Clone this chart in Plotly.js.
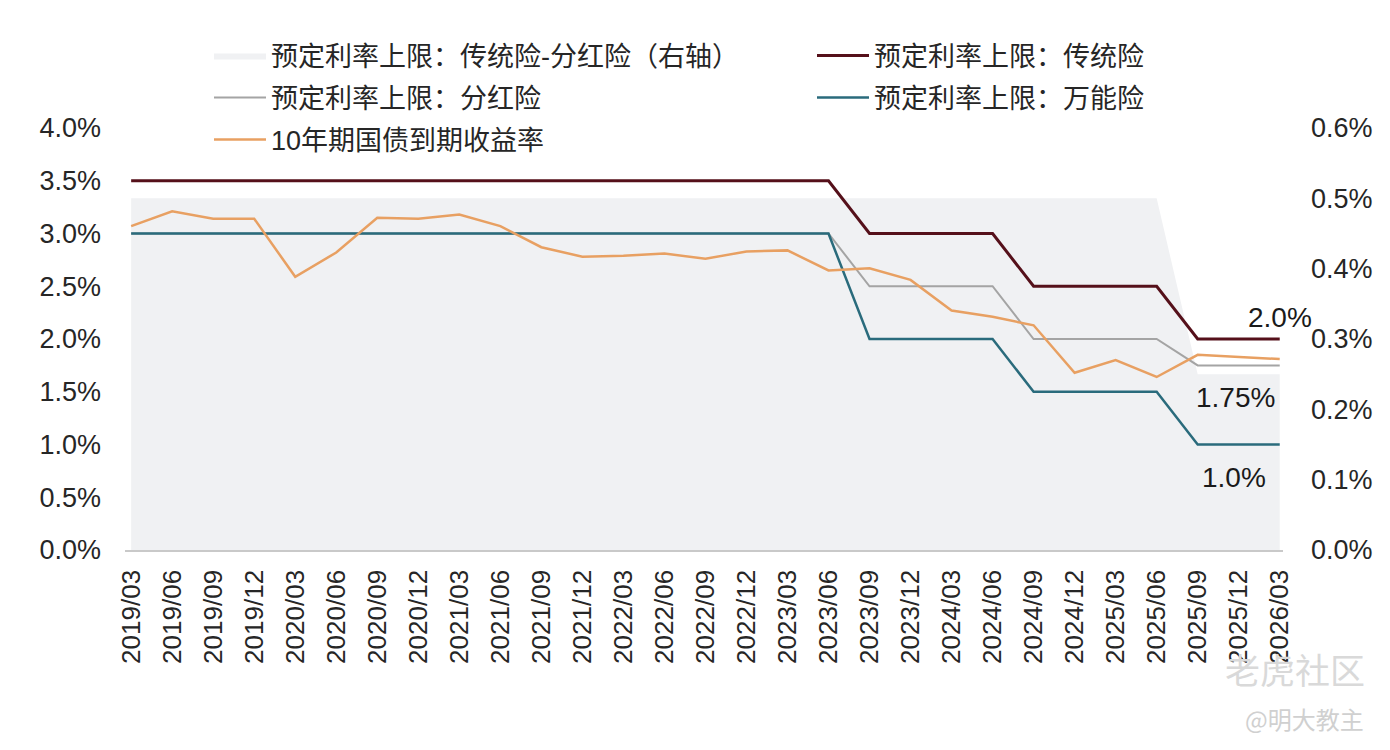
<!DOCTYPE html>
<html>
<head>
<meta charset="utf-8">
<script src="https://cdn.plot.ly/plotly-3.0.1.min.js"></script>
<style>
html,body{margin:0;padding:0;background:#ffffff;}
#chart{width:1390px;height:750px;}
</style>
</head>
<body>
<div id="chart"></div>
<script>
// ---- data ----
var quarters = ["2019/03","2019/06","2019/09","2019/12","2020/03","2020/06","2020/09","2020/12",
  "2021/03","2021/06","2021/09","2021/12","2022/03","2022/06","2022/09","2022/12",
  "2023/03","2023/06","2023/09","2023/12","2024/03","2024/06","2024/09","2024/12",
  "2025/03","2025/06","2025/09","2025/12","2026/03"];
var traditional = [3.5,3.5,3.5,3.5,3.5,3.5,3.5,3.5,3.5,3.5,3.5,3.5,3.5,3.5,3.5,3.5,3.5,3.5,
  3.0,3.0,3.0,3.0,2.5,2.5,2.5,2.5,2.0,2.0,2.0];
var dividend = [3.0,3.0,3.0,3.0,3.0,3.0,3.0,3.0,3.0,3.0,3.0,3.0,3.0,3.0,3.0,3.0,3.0,3.0,
  2.5,2.5,2.5,2.5,2.0,2.0,2.0,2.0,1.75,1.75,1.75];
var universal = [3.0,3.0,3.0,3.0,3.0,3.0,3.0,3.0,3.0,3.0,3.0,3.0,3.0,3.0,3.0,3.0,3.0,3.0,
  2.0,2.0,2.0,2.0,1.5,1.5,1.5,1.5,1.0,1.0,1.0];
var spreadTradDiv = [0.5,0.5,0.5,0.5,0.5,0.5,0.5,0.5,0.5,0.5,0.5,0.5,0.5,0.5,0.5,0.5,0.5,0.5,
  0.5,0.5,0.5,0.5,0.5,0.5,0.5,0.5,0.25,0.25,0.25];
var bond10y = [3.07,3.21,3.14,3.14,2.59,2.82,3.15,3.14,3.18,3.07,2.87,2.78,2.79,2.81,2.76,2.83,
  2.84,2.65,2.67,2.56,2.27,2.21,2.13,1.68,1.80,1.64,1.85,1.83,1.81];
var leftTicks = [0,0.5,1.0,1.5,2.0,2.5,3.0,3.5,4.0];
var leftTickText = ["0.0%","0.5%","1.0%","1.5%","2.0%","2.5%","3.0%","3.5%","4.0%"];
var rightTicks = [0,0.1,0.2,0.3,0.4,0.5,0.6];
var rightTickText = ["0.0%","0.1%","0.2%","0.3%","0.4%","0.5%","0.6%"];
var names = {
  spread: "预定利率上限：传统险-分红险（右轴）",
  trad: "预定利率上限：传统险",
  div: "预定利率上限：分红险",
  uni: "预定利率上限：万能险",
  bond: "10年期国债到期收益率"
};
var endLabels = ["2.0%","1.75%","1.0%"];

// ---- chart ----
var FONT = "Liberation Sans, Arial, Noto Sans CJK SC, sans-serif";
var LFONT = {family: "Liberation Sans, Noto Sans CJK SC, sans-serif", size: 27, color: "#262626"};

// the right-axis area sits on the base axis "y" so the lines (on overlaying "y2") draw above it
var traces = [
  {x: quarters, y: spreadTradDiv, name: names.spread, type: "scatter", mode: "lines",
   yaxis: "y", fill: "tozeroy", fillcolor: "#f0f1f3", line: {width: 0, color: "#f0f1f3"},
   legend: "legend"},
  {x: quarters, y: traditional, name: names.trad, type: "scatter", mode: "lines", yaxis: "y2",
   line: {color: "#55101a", width: 3}, legend: "legend4"},
  {x: quarters, y: dividend, name: names.div, type: "scatter", mode: "lines", yaxis: "y2",
   line: {color: "#a4a4a4", width: 2}, legend: "legend2"},
  {x: quarters, y: universal, name: names.uni, type: "scatter", mode: "lines", yaxis: "y2",
   line: {color: "#2a6b7c", width: 2.5}, legend: "legend5"},
  {x: quarters, y: bond10y, name: names.bond, type: "scatter", mode: "lines", yaxis: "y2",
   line: {color: "#e8a062", width: 2.5}, legend: "legend3"}
];

function px2x(p){ return (p - 125) / 1158; }
function py2y(p){ return (550 - p) / 422; }
function leg(xp, yp){
  return {x: px2x(xp), y: py2y(yp), xanchor: "left", yanchor: "middle",
    orientation: "v", bgcolor: "rgba(0,0,0,0)", borderwidth: 0,
    font: LFONT, itemwidth: 52, itemclick: false, itemdoubleclick: false};
}
var TICKFONT = {family: FONT, size: 27, color: "#262626"};

var layout = {
  width: 1390, height: 750,
  paper_bgcolor: "#ffffff", plot_bgcolor: "rgba(0,0,0,0)",
  margin: {l: 125, r: 107, t: 128, b: 200},
  font: {family: FONT, size: 25, color: "#262626"},
  showlegend: true,
  legend: leg(209, 56),
  legend2: leg(209, 98),
  legend3: leg(209, 140),
  legend4: leg(812, 56),
  legend5: leg(812, 98),
  xaxis: {
    type: "category", range: [-0.15, 28.08], tickangle: -90,
    showgrid: false, zeroline: false, showline: true, linecolor: "#c9c9c9", linewidth: 1.5,
    ticks: "", ticklabelstandoff: 8, tickfont: {family: FONT, size: 26, color: "#262626"},
    fixedrange: true
  },
  yaxis: {
    range: [0, 0.6], side: "right", tickvals: rightTicks, ticktext: rightTickText,
    showgrid: false, zeroline: false, showline: false, ticks: "",
    ticklabelstandoff: 27, tickfont: TICKFONT, fixedrange: true
  },
  yaxis2: {
    range: [0, 4], overlaying: "y", side: "left", tickvals: leftTicks, ticktext: leftTickText,
    showgrid: false, zeroline: false, showline: false, ticks: "",
    ticklabelstandoff: 23, tickfont: TICKFONT, fixedrange: true
  },
  annotations: [
    {xref: "x", yref: "y2", x: 28, y: 2.2, text: endLabels[0], showarrow: false,
     font: {family: FONT, size: 28, color: "#1a1a1a"}},
    {xref: "x", yref: "y2", x: 26.93, y: 1.45, text: endLabels[1], showarrow: false,
     font: {family: FONT, size: 28, color: "#1a1a1a"}},
    {xref: "x", yref: "y2", x: 26.88, y: 0.69, text: endLabels[2], showarrow: false,
     font: {family: FONT, size: 28, color: "#1a1a1a"}},
    {xref: "paper", yref: "paper", x: px2x(1295), y: py2y(668), xanchor: "center", yanchor: "middle",
     text: "老虎社区", showarrow: false,
     font: {family: "Noto Sans CJK SC, sans-serif", size: 35, color: "#d9d9d9"}},
    {xref: "paper", yref: "paper", x: px2x(1304), y: py2y(718), xanchor: "center", yanchor: "middle",
     text: "@明大教主", showarrow: false,
     font: {family: "Noto Sans CJK SC, sans-serif", size: 24, color: "#d0d0d0"}}
  ]
};

Plotly.newPlot("chart", traces, layout, {displayModeBar: false, staticPlot: true});
</script>
</body>
</html>
